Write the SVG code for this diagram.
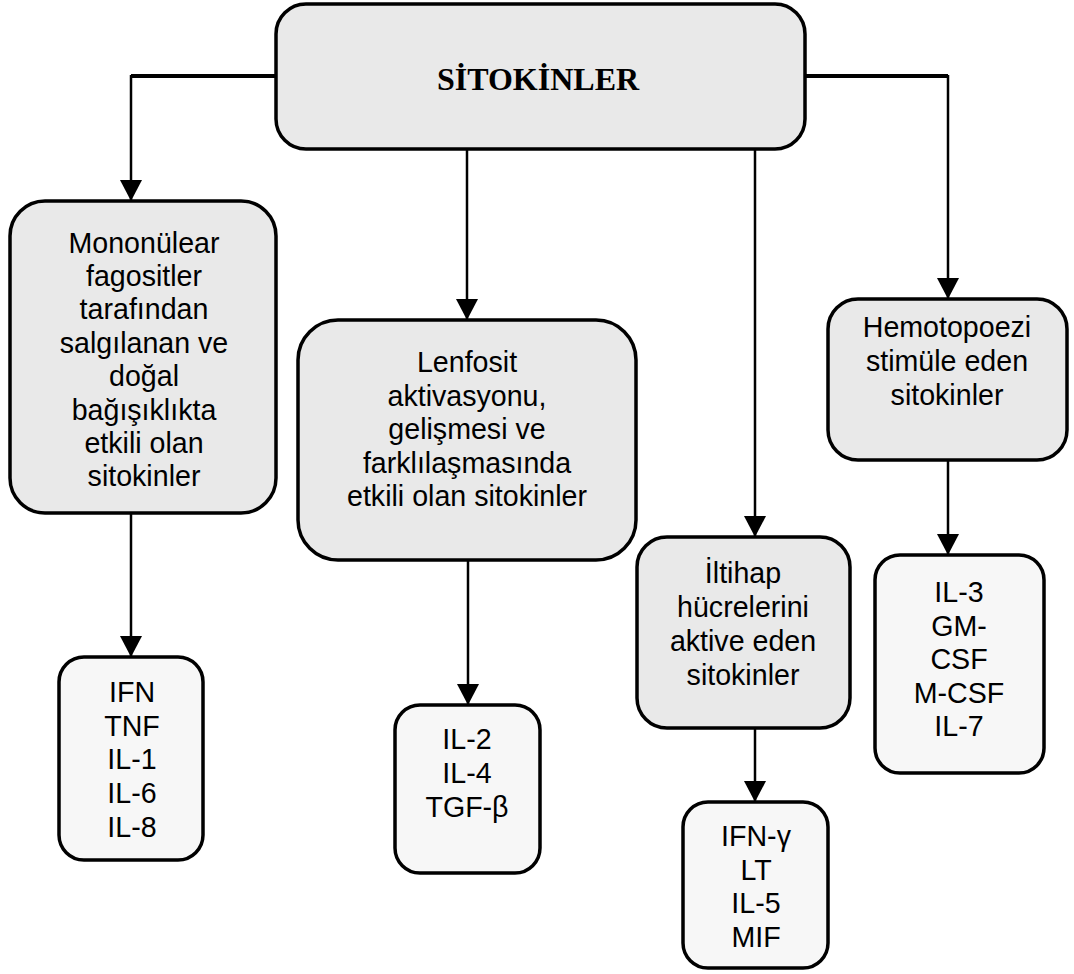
<svg xmlns="http://www.w3.org/2000/svg" width="1074" height="974" viewBox="0 0 1074 974">
<defs>
<style>
.main{fill:#e9e9e9;stroke:#000;stroke-width:3.5}
.leaf{fill:#f7f7f7;stroke:#000;stroke-width:3.5}
.t{font-family:"Liberation Sans",Arial,sans-serif;font-size:28.6px;fill:#000;text-anchor:middle}
.title{font-family:"Liberation Serif","Times New Roman",serif;font-size:32px;font-weight:bold;fill:#000;text-anchor:middle}
.c{fill:none;stroke:#000;stroke-width:2.5}
.h{fill:none;stroke:#000;stroke-width:4}
</style>
<marker id="arr" markerUnits="userSpaceOnUse" markerWidth="22" markerHeight="22" viewBox="0 0 22 22" refX="21" refY="11" orient="auto">
<path d="M0,0 L21,11 L0,22 Z" fill="#000"/>
</marker>
</defs>
<g id="connectors">
<path class="h" d="M276,76 H131"/>
<path class="c" d="M131,75 V201" marker-end="url(#arr)"/>
<path class="h" d="M805,76 H948"/>
<path class="c" d="M948,75 V299" marker-end="url(#arr)"/>
<path class="c" d="M467,149 V320" marker-end="url(#arr)"/>
<path class="c" d="M755,149 V537" marker-end="url(#arr)"/>
<path class="c" d="M131,513 V657" marker-end="url(#arr)"/>
<path class="c" d="M468,560 V705" marker-end="url(#arr)"/>
<path class="c" d="M755,728 V802" marker-end="url(#arr)"/>
<path class="c" d="M948,460 V555" marker-end="url(#arr)"/>
</g>
<g id="root">
<rect class="main" x="276" y="4" width="529" height="145" rx="30"/>
<text class="title" x="538" y="90">SİTOKİNLER</text>
</g>
<g id="mononuclear">
<rect class="main" x="10" y="201" width="266" height="312" rx="35"/>
<text class="t" x="144" y="252.5">Mononülear</text>
<text class="t" x="144" y="285.9">fagositler</text>
<text class="t" x="144" y="319.3">tarafından</text>
<text class="t" x="144" y="352.7">salgılanan ve</text>
<text class="t" x="144" y="386.1">doğal</text>
<text class="t" x="144" y="419.5">bağışıklıkta</text>
<text class="t" x="144" y="452.9">etkili olan</text>
<text class="t" x="144" y="486.3">sitokinler</text>
</g>
<g id="lenfosit">
<rect class="main" x="298" y="320" width="338" height="240" rx="40"/>
<text class="t" x="467" y="372">Lenfosit</text>
<text class="t" x="467" y="405.5">aktivasyonu,</text>
<text class="t" x="467" y="439">gelişmesi ve</text>
<text class="t" x="467" y="472.5">farklılaşmasında</text>
<text class="t" x="467" y="506">etkili olan sitokinler</text>
</g>
<g id="iltihap">
<rect class="main" x="637" y="537" width="213" height="191" rx="30"/>
<text class="t" x="743" y="583">İltihap</text>
<text class="t" x="743" y="617">hücrelerini</text>
<text class="t" x="743" y="651">aktive eden</text>
<text class="t" x="743" y="685">sitokinler</text>
</g>
<g id="hemotopoezi">
<rect class="main" x="828" y="299" width="239" height="161" rx="30"/>
<text class="t" x="947" y="337">Hemotopoezi</text>
<text class="t" x="947" y="371">stimüle eden</text>
<text class="t" x="947" y="405">sitokinler</text>
</g>
<g id="leaf1">
<rect class="leaf" x="59" y="657" width="144" height="203" rx="25"/>
<text class="t" x="132" y="702">IFN</text>
<text class="t" x="132" y="735.7">TNF</text>
<text class="t" x="132" y="769.4">IL-1</text>
<text class="t" x="132" y="803.1">IL-6</text>
<text class="t" x="132" y="836.8">IL-8</text>
</g>
<g id="leaf2">
<rect class="leaf" x="395" y="705" width="145" height="168" rx="25"/>
<text class="t" x="467" y="749">IL-2</text>
<text class="t" x="467" y="783">IL-4</text>
<text class="t" x="467" y="817">TGF-β</text>
</g>
<g id="leaf3">
<rect class="leaf" x="683" y="802" width="145" height="166" rx="25"/>
<text class="t" x="756" y="846">IFN-γ</text>
<text class="t" x="756" y="879.5">LT</text>
<text class="t" x="756" y="913">IL-5</text>
<text class="t" x="756" y="946.5">MIF</text>
</g>
<g id="leaf4">
<rect class="leaf" x="875" y="555" width="169" height="218" rx="25"/>
<text class="t" x="959" y="602">IL-3</text>
<text class="t" x="959" y="635.5">GM-</text>
<text class="t" x="959" y="669">CSF</text>
<text class="t" x="959" y="702.5">M-CSF</text>
<text class="t" x="959" y="736">IL-7</text>
</g>
</svg>
